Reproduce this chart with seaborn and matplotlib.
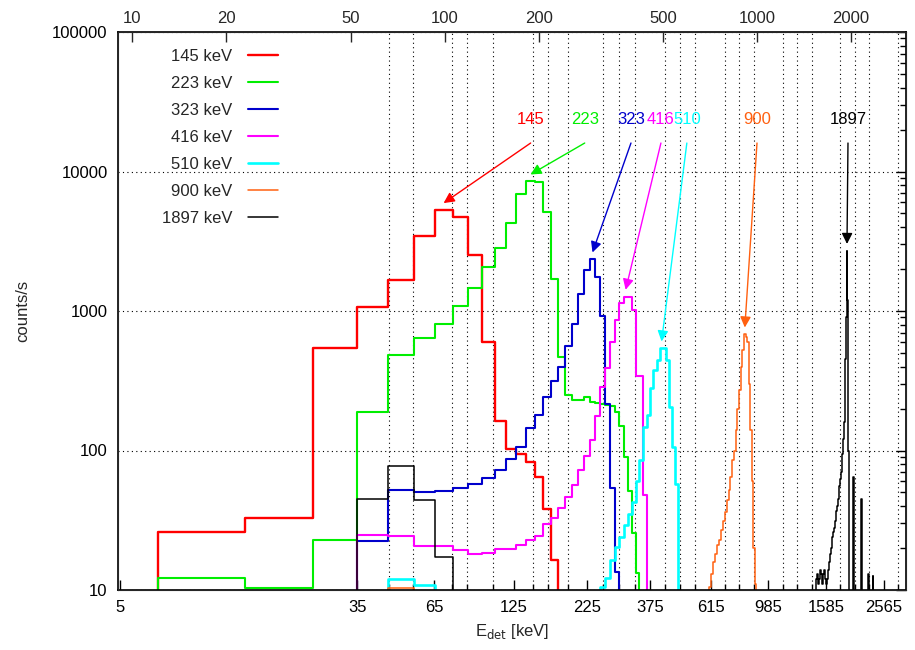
import numpy as np
import seaborn as sns
import matplotlib.pyplot as plt
from matplotlib.ticker import FixedLocator, FixedFormatter, NullLocator, NullFormatter, LogLocator

# spectra: 10 keV bins, counts/s per bin; *_start is the centre of the first listed bin
bin_width = 10

red_start = 10
red_counts = [26, 33, 543, 1070, 1668, 3450, 5300, 4750, 2500, 600, 164, 102,
              94, 83, 65, 38, 16.4]

green_start = 10
green_counts = [12.2, 10.3, 23, 189, 480, 644, 807, 1091, 1454, 2079, 2813, 4253,
                6898, 8500, 8450, 5100, 1686, 471, 250, 230, 232, 240, 224, 220,
                215, 212, 210, 190, 150, 90, 51, 25.5, 13.2]

blue_start = 40
blue_counts = [22.4, 52, 50.7, 51.4, 53.6, 57.6, 63.8, 73, 86.5, 106.5, 144, 180,
               243, 315, 399, 564, 803, 1324, 1968, 2346, 1762, 920, 215, 53.6, 13.5]

magenta_start = 40
magenta_counts = [24.8, 24.5, 20.8, 20.8, 19.3, 18, 18.3, 19.6, 19.6, 21, 22.8, 24.4,
                  29.7, 32.6, 38.5, 46.7, 56.6, 72.4, 91, 119, 177, 286, 388, 603,
                  861, 1135, 1267, 1267, 1016, 340, 340, 48]

cyan_start = 50
cyan_counts = [12, 10.8] + [0] * 18 + [10.5, 12.1, 16.4, 20.4, 24, 29, 35, 43, 60,
               85.5, 148, 180, 279, 378, 446, 540, 540, 446, 206, 106, 58]

orange_start = 50
orange_counts = [10.3] + [0] * 53 + [10.5, 13, 16, 18, 21, 23, 27, 31, 36, 44, 52,
                 65, 85, 100, 140, 200, 270, 400, 525, 680, 650, 600, 300, 140,
                 60, 20, 11]

black_start = 40
black_counts = [45, 78, 44, 17.3]
black_peak_start = 1380
black_peak_counts = [11, 12, 13, 11, 12, 14, 13, 11, 12, 13, 14, 12, 11, 12, 13,
                     14, 16, 18, 20, 22, 24, 26, 28, 31, 34, 37, 40, 45, 50, 56,
                     62, 70, 80, 95, 120, 160, 250, 450, 900, 2700, 1200, 100, 15]
black_spike_start = 1860
black_spike_counts = [65, 0, 0, 0, 0, 0, 0, 0, 0, 0, 0, 0, 0, 45]
black_tail_start = 2100
black_tail_counts = [13, 12.5, 0, 0, 0, 0, 0, 0, 12.5]

labels = ["145 keV", "223 keV", "323 keV", "416 keV", "510 keV", "900 keV", "1897 keV"]
line_names = ["145", "223", "323", "416", "510", "900", "1897"]
colors = ["#ff0000", "#00ee00", "#0000cc", "#ff00ff", "#00ffff", "#ff6010", "#000000"]
widths = [1.7, 1.5, 1.5, 1.5, 1.9, 1.1, 1.1]

# where the arrows start (bottom-axis data units)
arrow_from = [140, 216, 313, 398, 490, 860, 1784]

bottom_tick_pos = [5.2, 34.8, 64.5, 122.5, 220, 364.6, 595, 939, 1495, 2382]
bottom_tick_labels = ["5", "35", "65", "125", "225", "375", "615", "985", "1585", "2565"]
grid_pos = [34.8, 45, 54.5, 64.5, 74.5, 84, 103.5, 122.5, 142.7, 160.9, 188.9, 220,
            250, 284.4, 323, 364.6, 411, 464, 523, 595, 665, 744, 839, 939, 1059,
            1185, 1337, 1495, 1673, 1888, 2112, 2382, 2665]
top_ticks = [10, 20, 50, 100, 200, 500, 1000, 2000]
y_ticks = [10, 100, 1000, 10000, 100000]

# common binning: centres 10, 20, ... ; edges at geometric means (histeps on log x)
centres = np.arange(bin_width, 2850, bin_width, dtype=float)
edges = np.sqrt(centres[:-1] * centres[1:])
edges = np.concatenate([[5.0, centres[0] / np.sqrt(2)], edges,
                        [centres[-1] * np.sqrt(centres[-1] / centres[-2])]])


def fill(start, counts, out=None):
    if out is None:
        out = np.zeros(len(edges) - 1)
    i0 = int(round(start / bin_width))  # slot 0 is the empty bin below 7 keV
    out[i0:i0 + len(counts)] = counts
    return out


black = fill(black_start, black_counts)
black = fill(black_peak_start, black_peak_counts, black)
black = fill(black_spike_start, black_spike_counts, black)
black = fill(black_tail_start, black_tail_counts, black)

spectra = [
    fill(red_start, red_counts),
    fill(green_start, green_counts),
    fill(blue_start, blue_counts),
    fill(magenta_start, magenta_counts),
    fill(cyan_start, cyan_counts),
    fill(orange_start, orange_counts),
    black,
]

sns.set_style("white")
plt.rcParams["font.family"] = ["Liberation Sans", "DejaVu Sans"]
plt.rcParams["font.size"] = 12

fig = plt.figure(figsize=(9.15, 6.5), dpi=100)
ax = fig.add_axes([118 / 915, 60 / 650, 788 / 915, 558 / 650])

handles = []
for spec, lab, col, lw in zip(spectra, labels, colors, widths):
    sns.lineplot(x=edges, y=np.append(spec, 0.0), drawstyle="steps-post",
                 estimator=None, sort=False, color=col, linewidth=lw, ax=ax)
    ln = ax.lines[-1]
    ln.set_label(lab)
    handles.append(ln)

ax.set_xscale("log")
ax.set_yscale("log", nonpositive="clip")
ax.set_xlim(5.115, 2841)
ax.set_ylim(10, 100000)

# labels and arrows pointing at each peak
for spec, name, x0, col in zip(spectra, line_names, arrow_from, colors):
    k = int(np.argmax(spec))
    xk = np.sqrt(edges[k] * edges[k + 1])
    ax.annotate("", xy=(xk, spec[k] * 1.12), xytext=(x0, 16000),
                arrowprops=dict(arrowstyle="-|>", color=col, lw=1,
                                mutation_scale=16, shrinkA=0, shrinkB=0))
    ax.text(x0, 23400, name, color=col, ha="center", va="center", fontsize=12)

ax.xaxis.set_major_locator(FixedLocator(bottom_tick_pos))
ax.xaxis.set_major_formatter(FixedFormatter(bottom_tick_labels))
ax.xaxis.set_minor_locator(FixedLocator(grid_pos))
ax.xaxis.set_minor_formatter(NullFormatter())
ax.yaxis.set_major_locator(FixedLocator(y_ticks))
ax.yaxis.set_major_formatter(FixedFormatter([str(t) for t in y_ticks]))
ax.yaxis.set_minor_locator(LogLocator(base=10, subs=np.arange(2, 10)))
ax.yaxis.set_minor_formatter(NullFormatter())

ax.grid(True, which="minor", axis="x", color="black", ls=(0, (1, 3)), lw=0.8)
ax.grid(True, which="major", axis="y", color="black", ls=(0, (1, 3)), lw=0.8)
ax.tick_params(which="both", direction="in", top=False, right=True, colors="black",
               labelsize=12)
ax.tick_params(which="major", length=7, width=1)
ax.tick_params(which="minor", length=4, width=1)
ax.tick_params(axis="x", which="both", pad=7.5)
ax.tick_params(axis="y", which="both", pad=7.5)
for s in ax.spines.values():
    s.set_color("black")
    s.set_linewidth(1.2)

ax2 = ax.twiny()
ax2.set_xscale("log")
ax2.set_xlim(9, 3000)
ax2.xaxis.set_major_locator(FixedLocator(top_ticks))
ax2.xaxis.set_major_formatter(FixedFormatter([str(t) for t in top_ticks]))
ax2.xaxis.set_minor_locator(NullLocator())
ax2.tick_params(direction="in", length=7, width=1, labelsize=12, pad=4.5)

ax.set_xlabel(r"E$_{\rm det}$ [keV]", fontsize=12, labelpad=5)
ax.set_ylabel("counts/s", fontsize=12, labelpad=16)

ax.legend(handles=handles, loc="upper right", frameon=False, markerfirst=False,
          handlelength=1.8, handletextpad=0.95, labelspacing=0.72, fontsize=12,
          bbox_to_anchor=(0.2115, 0.982), borderaxespad=0)

fig.savefig("out.png", dpi=100)
